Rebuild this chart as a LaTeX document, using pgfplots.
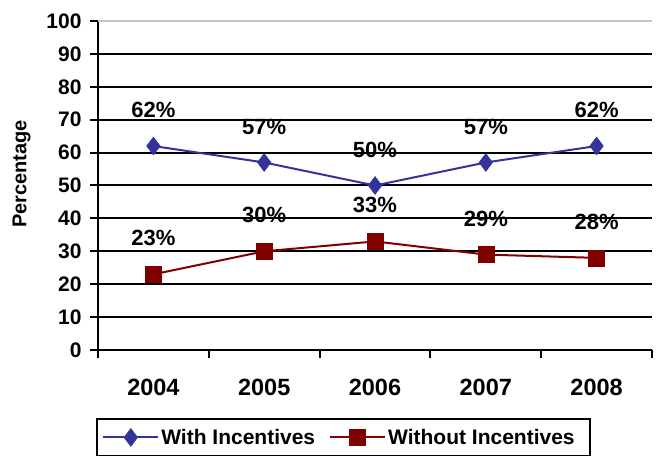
\documentclass[border=0pt]{standalone}
\usepackage{pgfplots}
\pgfplotsset{compat=1.18}
\usepackage{fontspec}
\setmainfont{Liberation Sans}
\definecolor{withinc}{HTML}{333399}
\definecolor{withoutinc}{HTML}{800000}

\begin{document}
\begin{tikzpicture}
\path[use as bounding box] (0,0) rectangle (661bp,456bp);
\begin{axis}[
  at={(98bp,106bp)}, anchor=south west,
  scale only axis, width=554bp, height=329bp,
  xmin=-0.5, xmax=4.5, ymin=0, ymax=100,
  clip=false,
  axis x line=bottom, axis y line=left,
  axis line style={line width=2bp, -},
  /pgf/number format/assume math mode=true,
  tick align=outside,
  xtick={0,...,4}, xticklabels={2004,2005,2006,2007,2008},
  major x tick style={draw=none},
  minor xtick={-0.5,0.5,...,4.5},
  minor x tick style={line width=2bp, black},
  minor tick length=8bp,
  ytick={0,10,...,90},
  extra y ticks={100},
  extra y tick style={grid style={line width=1.2bp, gray!45}},
  ytick style={line width=2bp, black},
  major tick length=8bp,
  ymajorgrids,
  grid style={line width=2bp, black},
  xticklabel style={font=\bfseries\fontsize{23.5bp}{26bp}\selectfont, anchor=center, yshift=-29bp},
  yticklabel style={font=\bfseries\fontsize{21bp}{24bp}\selectfont, anchor=east, xshift=-5bp},
  ylabel={Percentage},
  ylabel style={font=\bfseries\fontsize{20bp}{24bp}\selectfont, at={(axis description cs:-0.138,0.535)}, anchor=center},
  nodes near coords={\pgfmathprintnumber{\pgfplotspointmeta}\%},
  point meta=y,
  every node near coord/.append style={font=\bfseries\fontsize{22bp}{24bp}\selectfont, black, anchor=center, yshift=36bp},
  legend columns=2,
  legend style={at={(-0.003,-0.207)}, anchor=north west, draw=black, line width=2bp,
    font=\bfseries\fontsize{21bp}{24bp}\selectfont, inner xsep=5bp, inner ysep=8bp,
    /tikz/every even column/.append style={column sep=12bp}},
  legend image code/.code={\draw[mark repeat=2, mark phase=2] plot coordinates {(0bp,0bp) (27.5bp,0bp) (55bp,0bp)};},
]
\addplot[color=withinc, line width=2bp, mark=diamond*, mark size=9bp,
  mark options={fill=withinc, draw=withinc, line width=0.5bp}]
  coordinates {(0,62) (1,57) (2,50) (3,57) (4,62)};
\addlegendentry{With Incentives}
\addplot[color=withoutinc, line width=2bp, mark=square*, mark size=8bp,
  mark options={fill=withoutinc, draw=withoutinc, line width=0.5bp}]
  coordinates {(0,23) (1,30) (2,33) (3,29) (4,28)};
\addlegendentry{Without Incentives\hspace*{8bp}}
\end{axis}
\end{tikzpicture}
\end{document}
